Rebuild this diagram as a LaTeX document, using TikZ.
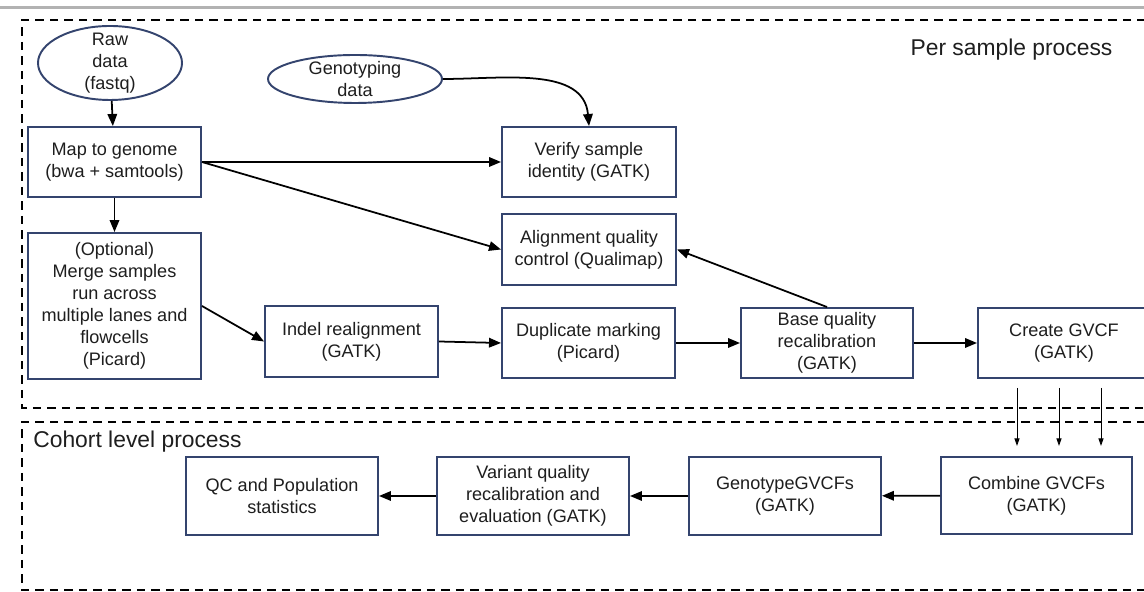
\documentclass[tikz,border=0pt]{standalone}
\usepackage{fontspec}
\setmainfont{Liberation Sans}
\usepackage{tikz}
\usetikzlibrary{arrows.meta,shapes.geometric}
\definecolor{boxline}{RGB}{52,68,110}
\definecolor{ink}{RGB}{30,30,30}

\begin{document}
\begin{tikzpicture}[
  font=\fontsize{10.3}{12.5}\selectfont, text=ink,
  box/.style={draw=boxline, line width=1.1pt, fill=white, align=center, inner sep=0pt, minimum width=3.46cm, minimum height=1.4cm},
  wide box/.style={box, minimum width=3.84cm, minimum height=1.56cm},
  blob/.style={ellipse, draw=boxline, line width=1.1pt, fill=white, align=center, inner xsep=0pt, inner ysep=-0.2cm},
  flow/.style={-{Triangle[length=0.24cm,width=0.19cm]}, line width=1pt, black},
  thin flow/.style={-{Triangle[length=0.15cm,width=0.1cm]}, line width=0.5pt, black},
  zone/.style={dashed, dash pattern=on 0.17cm off 0.12cm, line width=1.3pt, black},
  heading/.style={inner sep=0pt, font=\fontsize{13}{15}\selectfont}
]
\useasboundingbox (0,0) rectangle (22.88,11.84);
\draw[gray!60, line width=0.06cm] (0,11.68) -- (22.88,11.68);
\draw[zone] (23.2,11.44) -- (0.44,11.44) -- (0.44,3.68) -- (23.2,3.68);
\draw[zone] (23.2,3.40) -- (0.44,3.40) -- (0.44,0.04) -- (23.2,0.04);
\node[heading] (persample) at (20.23,10.84) {Per sample process};
\node[heading, anchor=west] (cohort) at (0.66,3.00) {Cohort level process};
\node[blob, minimum width=2.88cm, minimum height=1.48cm] (raw) at (2.20,10.58) {Raw\\data\\(fastq)};
\node[blob, minimum width=3.48cm, minimum height=0.96cm] (geno) at (7.10,10.26) {Genotyping\\data};
\node[box] (map) at (2.29,8.60) {Map to genome\\(bwa + samtools)};
\node[box, minimum height=2.92cm] (merge) at (2.29,5.72) {(Optional)\\Merge samples\\run across\\multiple lanes and\\flowcells\\(Picard)};
\node[box, minimum width=3.48cm] (verify) at (11.78,8.60) {Verify sample\\identity (GATK)};
\node[box, minimum width=3.48cm, minimum height=1.42cm] (alignqc) at (11.78,6.85) {Alignment quality\\control (Qualimap)};
\node[box, minimum height=1.42cm] (indel) at (7.03,5.01) {Indel realignment\\(GATK)};
\node[box] (dup) at (11.77,4.98) {Duplicate marking\\(Picard)};
\node[box, minimum width=3.44cm] (base) at (16.54,4.98) {Base quality\\recalibration\\(GATK)};
\node[box, minimum width=3.44cm] (gvcf) at (21.28,4.98) {Create GVCF\\(GATK)};
\node[wide box, minimum width=3.82cm, minimum height=1.54cm] (combine) at (20.73,1.93) {Combine GVCFs\\(GATK)};
\node[wide box] (genotype) at (15.70,1.92) {GenotypeGVCFs\\(GATK)};
\node[wide box] (variant) at (10.66,1.92) {Variant quality\\recalibration and\\evaluation (GATK)};
\node[wide box] (qc) at (5.64,1.92) {QC and Population\\statistics};
\draw[flow] (raw) -- (map);
\draw[flow] (map) -- (merge);
\draw[flow] (map.east) -- (verify.west);
\draw[flow] (map.east) -- (alignqc.west);
\draw[flow] (geno.east) to[out=0,in=95] (verify.north);
\draw[flow] (merge.east) -- (indel.west);
\draw[flow] (indel.east) -- (dup.west);
\draw[flow] (dup) -- (base);
\draw[flow] (base) -- (gvcf);
\draw[flow] (base.north) -- (alignqc.east);
\foreach \dx in {-0.94,-0.10,0.74}
  \draw[thin flow, shorten <=0.18cm] ([xshift=\dx cm]gvcf.south) -- ++(0,-1.34);
\draw[flow] (combine) -- (genotype);
\draw[flow] (genotype) -- (variant);
\draw[flow] (variant) -- (qc);
\end{tikzpicture}
\end{document}
